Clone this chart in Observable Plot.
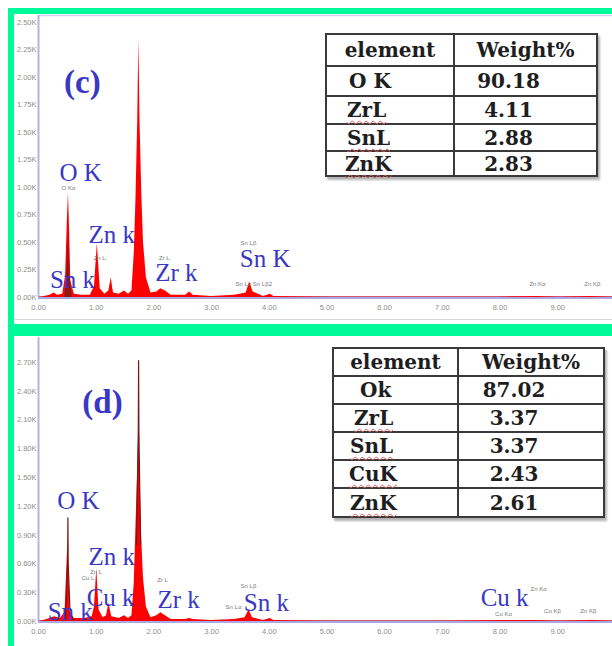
<!DOCTYPE html>
<html><head><meta charset="utf-8">
<script src="https://cdn.jsdelivr.net/npm/d3@7"></script>
<script src="https://cdn.jsdelivr.net/npm/@observablehq/plot@0.6"></script>
<style>
body{margin:0;background:#fff;}
#wrap{position:relative;width:612px;height:646px;overflow:hidden;background:#fff;}
.g{position:absolute;background:#00fa9a;z-index:5;}
.panel{position:absolute;left:0;z-index:1;}
.line{position:absolute;background:#d6d6d6;z-index:2;}
table.w{position:absolute;border-collapse:collapse;font-family:"DejaVu Serif",serif;font-weight:bold;font-size:20px;color:#1e1e1e;background:#fff;box-shadow:2px 3px 2px rgba(0,0,0,0.3);z-index:3;table-layout:fixed;}
table.w td{border:2px solid #3a3a3a;padding:0;line-height:1;white-space:nowrap;}
table.w td.hd{text-align:center;}
table.w td.el{text-align:left;}
table.w td.val{text-align:center;}
.sp{text-decoration:underline wavy #e05858;text-decoration-thickness:1px;text-underline-offset:3px;}
</style></head>
<body>
<div id="wrap">
  <div class="g" style="left:8px;top:8px;width:604px;height:6px"></div>
  <div class="g" style="left:8px;top:8px;width:6px;height:638px"></div>
  <div class="g" style="left:8px;top:324px;width:604px;height:12px"></div>
  <div class="line" style="left:14px;top:319px;width:598px;height:1px"></div>
  <div class="panel" id="pc" style="top:0px"></div>
  <div class="panel" id="pd" style="top:336px"></div>
</div>
<script>
// ---------- data ----------
const xTicks = [0,1,2,3,4,5,6,7,8,9];
const yTicksC = [0,0.25,0.5,0.75,1.0,1.25,1.5,1.75,2.0,2.25,2.5];
const yTicksD = [0,0.3,0.6,0.9,1.2,1.5,1.8,2.1,2.4,2.7];

// panel (c) spectrum: energy (keV), counts (K)
const energyC = [0.00,0.10,0.20,0.27,0.33,0.42,0.47,0.50,0.52,0.54,0.56,0.62,0.75,0.90,0.97,1.02,1.07,1.15,1.22,1.26,1.30,1.40,1.49,1.56,1.62,1.66,1.69,1.72,1.74,1.76,1.79,1.82,1.87,1.95,2.05,2.12,2.20,2.30,2.55,2.62,2.68,3.00,3.40,3.60,3.66,3.72,3.90,4.02,4.08,5.00,6.00,7.00,8.00,8.63,9.00,9.57,9.95];
const countsC = [0.00,0.01,0.02,0.04,0.02,0.03,0.20,0.70,0.95,0.60,0.15,0.03,0.02,0.02,0.10,0.49,0.08,0.03,0.06,0.18,0.04,0.03,0.06,0.03,0.06,0.40,0.90,1.60,2.35,1.60,0.95,0.50,0.18,0.04,0.05,0.08,0.06,0.02,0.02,0.05,0.02,0.01,0.02,0.04,0.14,0.05,0.01,0.03,0.01,0.005,0.005,0.005,0.005,0.01,0.005,0.01,0.005];
const darkEnergyC = [0.46,0.50,0.52,0.54,0.58];
const darkCountsC = [0.02,0.30,0.63,0.25,0.02];

// panel (d) spectrum
const energyD = [0.00,0.15,0.28,0.38,0.46,0.51,0.55,0.62,0.80,0.93,0.97,1.01,1.05,1.12,1.18,1.22,1.27,1.40,1.49,1.56,1.62,1.66,1.69,1.72,1.74,1.76,1.79,1.82,1.87,1.95,2.05,2.12,2.20,2.30,2.55,2.62,2.68,3.00,3.40,3.58,3.65,3.71,3.90,4.02,4.08,5.00,6.00,7.00,8.05,8.63,9.00,9.57,9.95];
const countsD = [0.00,0.02,0.05,0.03,0.10,0.85,0.10,0.03,0.03,0.05,0.15,0.55,0.12,0.04,0.06,0.19,0.05,0.03,0.06,0.03,0.06,0.40,1.00,1.60,2.00,1.50,0.85,0.45,0.15,0.04,0.06,0.09,0.06,0.02,0.02,0.03,0.02,0.01,0.02,0.04,0.12,0.04,0.01,0.03,0.01,0.005,0.005,0.005,0.01,0.01,0.005,0.01,0.005];
const darkEnergyD = [0.47,0.505,0.51,0.515,0.55,1.70,1.73,1.735,1.74,1.77];
const darkCountsD = [0.05,0.60,1.08,0.60,0.05,0.80,2.00,2.72,2.00,0.80];
const darkPeakD = ["O","O","O","O","O","Si","Si","Si","Si","Si"];

// element labels (blue), positions in data units (keV, K counts)
const labelTextC = ["(c)","O K","Zn k","Sn k","Zr k","Sn K"];
const labelXC = [0.76,0.73,1.27,0.59,2.39,3.93];
const labelYC = [1.95,1.13,0.57,0.155,0.22,0.345];
const labelSizeC = [34,25,25,25,25,25];
const labelTextD = ["(d)","O K","Zn k","Cu k","Sn k","Zr k","Sn k","Cu k"];
const labelXD = [1.11,0.69,1.27,1.25,0.55,2.43,3.95,8.08];
const labelYD = [2.28,1.26,0.67,0.25,0.10,0.22,0.19,0.25];
const labelSizeD = [32,25,25,25,25,25,25,25];

// small line markers (gray)
const smallTextC = ["O Kα","Zn L","Zr L","Sn Lβ","Sn Lα Sn Lβ2","Zn Kα","Zn Kβ"];
const smallXC = [0.52,1.06,2.18,3.64,3.73,8.65,9.60];
const smallYC = [0.99,0.36,0.36,0.49,0.12,0.12,0.12];
const smallTextD = ["Zn L","Cu L","Zr L","Sn Lβ","Sn Lα","Zn Kα","Cu Kα","Cu Kβ","Zn Kβ"];
const smallXD = [1.00,0.86,2.15,3.64,3.38,8.67,8.06,8.91,9.53];
const smallYD = [0.51,0.45,0.43,0.37,0.15,0.34,0.08,0.11,0.11];

// tables
const tableHeader = ["element","Weight%"];
const elementsC = ["O K","ZrL","SnL","ZnK"];
const weightsC = [90.18,4.11,2.88,2.83];
const elementsD = ["Ok","ZrL","SnL","CuK","ZnK"];
const weightsD = [87.02,3.37,3.37,2.43,2.61];

// ---------- build ----------
const zipXY = (xs, ys) => xs.map((e,i) => ({e, c: ys[i]}));
const specC = zipXY(energyC, countsC);
const darkC = zipXY(darkEnergyC, darkCountsC);
const specD = zipXY(energyD, countsD);
const darkD = darkEnergyD.map((e,i) => ({e, c: darkCountsD[i], p: darkPeakD[i]}));
const labs = (t, x, y, s) => t.map((d,i) => ({t: d, e: x[i], c: y[i], s: s ? s[i] : 6, big: d.startsWith("(")}));
const labelsC = labs(labelTextC, labelXC, labelYC, labelSizeC);
const labelsD = labs(labelTextD, labelXD, labelYD, labelSizeD);
const smallC = labs(smallTextC, smallXC, smallYC);
const smallD = labs(smallTextD, smallXD, smallYD);

const blue = "#3838c4";
function panel(spec, dark, darkAsLine, labels, small, yMax, yTicks, height, mTop, mBottom, topRule) {
  const marks = [];
  if (topRule) marks.push(Plot.ruleY([yMax], {stroke: "#cfcff2", strokeWidth: 1.5}));
  marks.push(
    Plot.ruleX([0], {stroke: "#b3b3e6", strokeWidth: 2}),
    Plot.ruleY([0], {stroke: "#a9a9e2", strokeWidth: 3}),
    Plot.areaY(spec, {x: "e", y: "c", fill: "#ff0000", curve: "linear"}),
    darkAsLine
      ? Plot.line(dark, {x: "e", y: "c", z: "p", stroke: "#7a1616", strokeWidth: 1.2})
      : Plot.areaY(dark, {x: "e", y: "c", fill: "#8a1a1a"}),
    Plot.text(small, {x: "e", y: "c", text: "t", fill: "#7a7a7a", fontSize: 6, fontFamily: "Liberation Sans", textAnchor: "middle", lineAnchor: "middle"}),
    Plot.text(labels.filter(d => !d.big), {x: "e", y: "c", text: "t", fill: blue, fontSize: 25, fontFamily: "Liberation Serif", textAnchor: "middle", lineAnchor: "middle"}),
    Plot.text(labels.filter(d => d.big), {x: "e", y: "c", text: "t", fill: blue, fontSize: 33, fontWeight: "bold", fontFamily: "Liberation Serif", textAnchor: "middle", lineAnchor: "middle"})
  );
  return Plot.plot({
    width: 612, height, marginTop: mTop, marginBottom: mBottom, marginLeft: 38, marginRight: 0,
    style: {background: "transparent", fontFamily: "Liberation Sans", fontSize: "7.5px", color: "#8e8e8e"},
    x: {domain: [0, 9.95], ticks: xTicks, tickFormat: d => d.toFixed(2), tickSize: 0, tickPadding: 7, label: null},
    y: {domain: [0, yMax], ticks: yTicks, tickFormat: d => d.toFixed(2) + "K", tickSize: 0, tickPadding: 2, label: null},
    marks
  });
}

document.getElementById("pc").append(panel(specC, darkC, false, labelsC, smallC, 2.56, yTicksC, 324, 15, 27, true));
document.getElementById("pd").append(panel(specD, darkD, true, labelsD, smallD, 2.96, yTicksD, 310, 1, 25, false));

function makeTable(left, top, width, col1, rowHeights, elements, weights, valPad, elPad) {
  const t = document.createElement("table");
  t.className = "w";
  t.style.left = left + "px"; t.style.top = top + "px"; t.style.width = width + "px";
  const cg = document.createElement("colgroup");
  cg.innerHTML = `<col style="width:${col1}px"><col>`;
  t.append(cg);
  const hr = t.insertRow();
  hr.style.height = rowHeights[0] + "px";
  tableHeader.forEach(h => { const c = hr.insertCell(); c.className = "hd"; c.textContent = h; });
  elements.forEach((el, i) => {
    const r = t.insertRow();
    r.style.height = rowHeights[i + 1] + "px";
    const c1 = r.insertCell(); c1.className = "el"; c1.style.paddingLeft = elPad[i] + "px";
    const sp = document.createElement("span");
    sp.textContent = el;
    if (/^[A-Z][a-z][A-Z]$/.test(el)) sp.className = "sp";
    c1.append(sp);
    const c2 = r.insertCell(); c2.className = "val"; c2.style.paddingRight = valPad + "px";
    c2.textContent = weights[i].toFixed(2);
  });
  document.getElementById("wrap").append(t);
}
makeTable(325, 33, 273, 128, [32, 30, 28, 27, 25], elementsC, weightsC, 34, [22, 20, 20, 18]);
makeTable(332, 347, 273, 125, [28, 28, 28, 28, 28, 29], elementsD, weightsD, 34, [26, 20, 16, 15, 16]);
</script>
</body></html>
